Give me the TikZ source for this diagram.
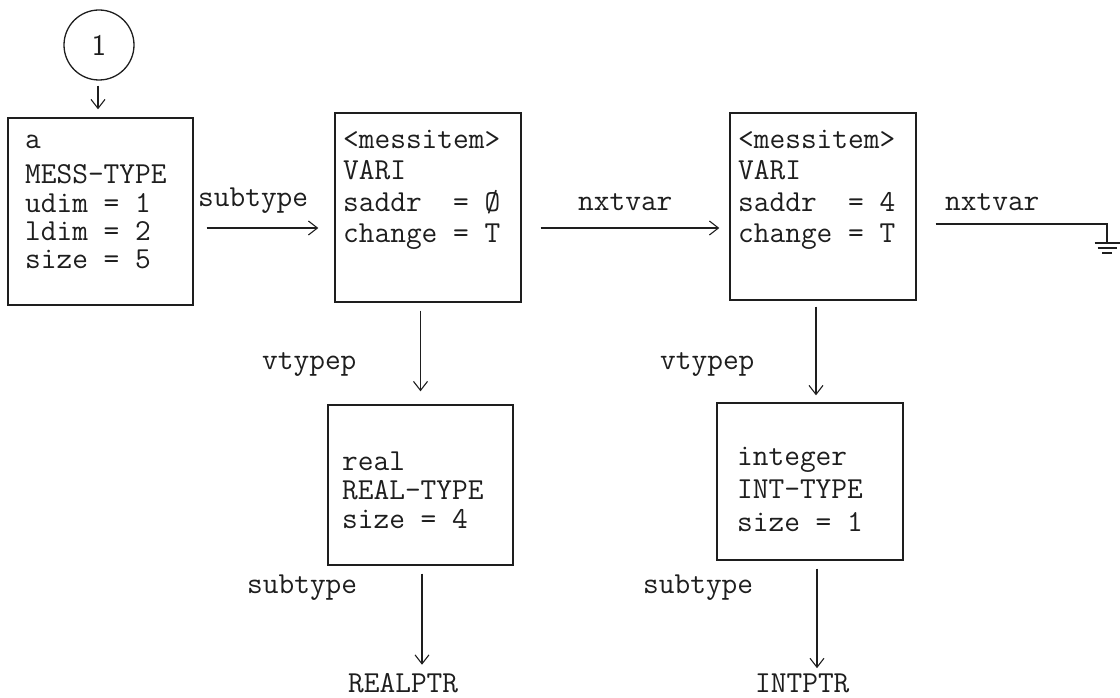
\documentclass[tikz,border=0pt]{standalone}
\usepackage{fontspec}
\usetikzlibrary{arrows.meta,calc}
\definecolor{ink}{HTML}{1E1E1E}
\begin{document}
\begin{tikzpicture}[x=1pt,y=-1pt,
  box/.style={draw=ink, line width=1.4pt, inner sep=0pt},
  txt/.style={font=\ttfamily\fontsize{30.5}{#1}\selectfont, align=left, inner sep=0pt, anchor=base west, text=ink},
  lbl/.style={font=\ttfamily\fontsize{30.5}{30}\selectfont, inner sep=0pt, anchor=base west, text=ink},
  arr/.style={draw=ink, line width=1.1pt, -{Straight Barb[length=9pt,width=14pt]}},
  wire/.style={draw=ink, line width=1.1pt}]
\useasboundingbox (0,0) rectangle (1120,698);
% circle
\node[draw=ink, circle, minimum size=70pt, inner sep=0pt, line width=1.3pt,
      font=\sffamily\fontsize{30}{30}\selectfont, text=ink] (one) at (99,45) {1};
% boxes
\node[box, minimum width=185pt, minimum height=187pt] (A) at (100.5,211.5) {};
\node[box, minimum width=186pt, minimum height=189pt] (B) at (428,207.5) {};
\node[box, minimum width=186pt, minimum height=187pt] (C) at (823,206.5) {};
\node[box, minimum width=185pt, minimum height=160pt] (D) at (420.5,485) {};
\node[box, minimum width=186pt, minimum height=157pt] (E) at (810,481.5) {};
% box texts (anchored at the baseline of their last line)
\node[txt=28.5pt] (tA) at (25,269) {a\\[7pt]MESS-TYPE\\udim = 1\\ldim = 2\\size = 5};
\node[txt=31.5pt] (tB) at (343,242.5) {<messitem>\\VARI\\saddr~~= Ø\\change = T};
\node[txt=31.5pt] (tC) at (738,242.5) {<messitem>\\VARI\\saddr~~= 4\\change = T};
\node[txt=29pt] (tD) at (342,528) {real\\REAL-TYPE\\size = 4};
\node[txt=33pt] (tE) at (737,531) {integer\\INT-TYPE\\size = 1};
% labels
\node[lbl] (l1) at (198,207) {subtype};
\node[lbl] (l2) at (578,211) {nxtvar};
\node[lbl] (l3) at (945,211) {nxtvar};
\node[lbl] (l4) at (262,369) {vtypep};
\node[lbl] (l5) at (660,369) {vtypep};
\node[lbl] (l6) at (247,593) {subtype};
\node[lbl] (l7) at (643,593) {subtype};
\node[lbl] (RP) at (348,692) {REALPTR};
\node[lbl] (IP) at (755,692) {INTPTR};
% helper coordinates
\coordinate (rowA) at (0,228);
\coordinate (rowC) at (0,224);
\coordinate (G) at (1107,243);
% connectors
\draw[arr] ($(one.south)+(-1,5)$) -- ($(one.south |- A.north)+(-1,-8)$);
\draw[arr] ($(A.east |- rowA)+(13,0)$) -- ($(B.west |- rowA)+(-16,0)$);
\draw[arr] ($(B.east |- rowA)+(19,0)$) -- ($(C.west |- rowA)+(-10,0)$);
\draw[wire] ($(C.east |- rowC)+(19,0)$) -| (G);
\draw[wire] ($(G)+(-12.5,0)$) -- ($(G)+(12.5,0)$);
\draw[wire] ($(G)+(-9.5,5)$) -- ($(G)+(9.5,5)$);
\draw[wire] ($(G)+(-5,10)$) -- ($(G)+(5,10)$);
\draw[arr] ($(B.south -| D.north)+(0,8)$) -- ($(D.north)+(0,-13)$);
\draw[arr] ($(C.south -| E.north)+(6,6)$) -- ($(E.north)+(6,-7)$);
\draw[arr] ($(D.south)+(1.5,8)$) -- ($(RP.north -| D.south)+(1.5,-8)$);
\draw[arr] ($(E.south)+(7,8)$) -- ($(IP.north -| E.south)+(7,-5)$);
\end{tikzpicture}
\end{document}
